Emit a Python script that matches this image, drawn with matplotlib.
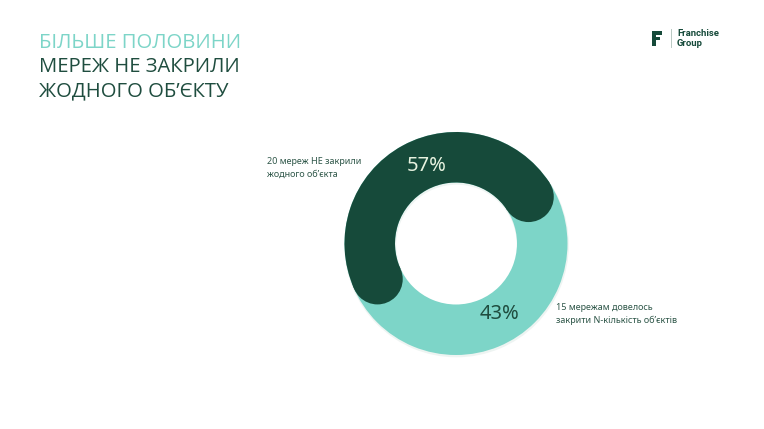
"""
Donut chart: how many franchise networks closed at least one outlet.
"""

import matplotlib
matplotlib.use("Agg")
import matplotlib.pyplot as plt
from matplotlib.patches import Wedge, Circle, Rectangle
import numpy as np

# === Data ===
networks = [20, 15]
shares = [57, 43]  # %
share_labels = ["57%", "43%"]
slice_notes = [
    "20 мереж НЕ закрили\nжодного об’єкта",
    "15 мережам довелось\nзакрити N-кількість об’єктів",
]
title_lines = ["БІЛЬШЕ ПОЛОВИНИ", "МЕРЕЖ НЕ ЗАКРИЛИ", "ЖОДНОГО ОБ’ЄКТУ"]

# === Style ===
DARK = "#164a3a"
LIGHT = "#7dd5c8"
TEXT_DARK = "#1f4d3f"
NOTE = "#2f5749"
FONT = "Noto Sans"

W, H = 764, 429
CX, CY = 456, 243.5
R_OUT, R_IN = 111.5, 61
START = 16  # degrees, counter-clockwise from 3 o'clock (visual)

fig = plt.figure(figsize=(W / 100, H / 100), dpi=100)
ax = fig.add_axes([0, 0, 1, 1])
ax.set_xlim(0, W)
ax.set_ylim(H, 0)
ax.axis("off")

# --- title ---
title_colors = [LIGHT, TEXT_DARK, TEXT_DARK]
for i, (line, col) in enumerate(zip(title_lines, title_colors)):
    ax.text(39, 43 + i * 24, line, fontsize=14.6, color=col, family="Open Sans",
            ha="left", va="center")

# --- logo ---
ax.add_patch(Rectangle((652, 31), 4, 15, color=DARK, lw=0))
ax.add_patch(Rectangle((656, 31), 6, 4, color=DARK, lw=0))
ax.add_patch(Rectangle((656, 37), 4, 3, color=DARK, lw=0))
ax.plot([670.5, 670.5], [29, 47], color="#b9c9c3", lw=0.7)
ax.text(677, 34, "Franchise", fontsize=6.8, weight="bold", color=DARK,
        family="Roboto", va="center")
ax.text(677, 43.5, "Group", fontsize=6.8, weight="bold", color=DARK,
        family="Roboto", va="center")

# --- donut ---
width = R_OUT - R_IN
r_mid = (R_OUT + R_IN) / 2

# faint shadow + light full ring
ax.add_patch(Wedge((CX + 0.5, CY + 1.5), R_OUT + 0.8, 0, 360, width=width + 1.5,
                   color="#eef4f2", lw=0))
ax.add_patch(Wedge((CX, CY), R_OUT, 0, 360, width=width, color=LIGHT, lw=0))

# dark arc with rounded caps (y axis inverted -> negate angles)
span = 360 * shares[0] / 100
cap = np.degrees((width / 2) / r_mid)
a1, a2 = START + cap, START + span - cap
ax.add_patch(Wedge((CX, CY), R_OUT, -a2, -a1, width=width, color=DARK, lw=0))
for a in (a1, a2):
    t = np.radians(a)
    ax.add_patch(Circle((CX + r_mid * np.cos(t), CY - r_mid * np.sin(t)),
                        width / 2, color=DARK, lw=0))

# percentage labels
ax.text(426.5, 166, share_labels[0], fontsize=14.5, color="#e6f2df", family=FONT,
        ha="center", va="center")
ax.text(500, 314, share_labels[1], fontsize=14.5, color=TEXT_DARK, family=FONT,
        ha="center", va="center")

# side notes
ax.text(267, 168, slice_notes[0], fontsize=6.5, color=NOTE, family=FONT,
        ha="left", va="center", linespacing=1.45)
ax.text(556, 314, slice_notes[1], fontsize=6.5, color=NOTE, family=FONT,
        ha="left", va="center", linespacing=1.45)

fig.savefig("out.png", dpi=100, facecolor="white")
